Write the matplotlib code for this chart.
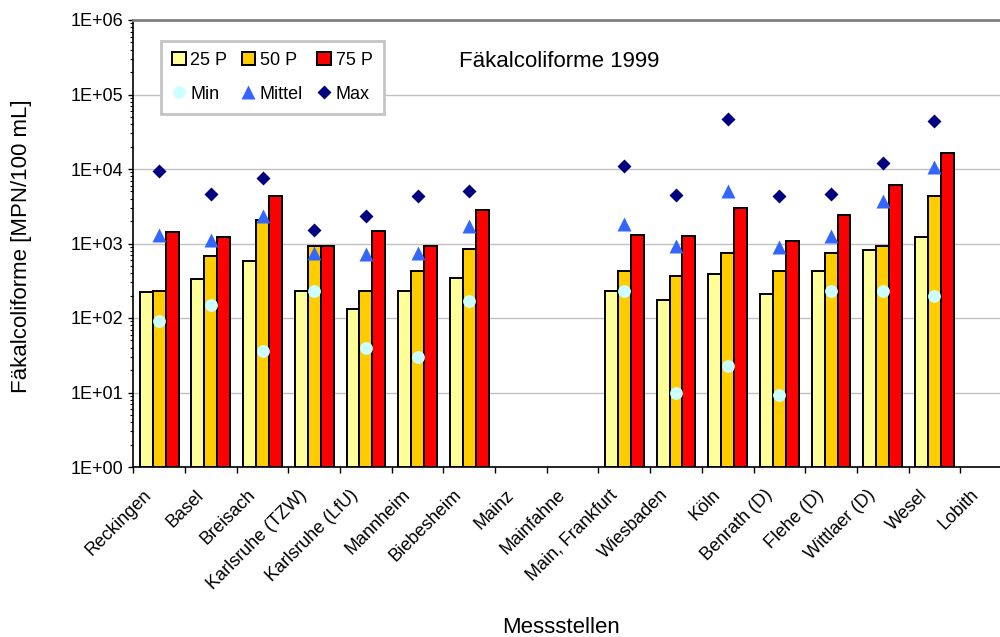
import numpy as np
import matplotlib
matplotlib.use("Agg")
import matplotlib.pyplot as plt
import matplotlib.transforms as mtransforms
from matplotlib.lines import Line2D
from matplotlib.patches import Patch

nan = np.nan
stations = ["Reckingen", "Basel", "Breisach", "Karlsruhe (TZW)", "Karlsruhe (LfU)",
            "Mannheim", "Biebesheim", "Mainz", "Mainfahne", "Main, Frankfurt",
            "Wiesbaden", "Köln", "Benrath (D)", "Flehe (D)", "Wittlaer (D)",
            "Wesel", "Lobith"]
p25 = [222, 333, 587, 229, 133, 229, 347, nan, nan, 232, 174, 384, 209, 430, 810, 1240, nan]
p50 = [232, 685, 2090, 915, 229, 426, 843, nan, nan, 430, 369, 745, 430, 745, 922, 4360, nan]
p75 = [1430, 1208, 4360, 915, 1487, 915, 2825, nan, nan, 1300, 1250, 3000, 1080, 2390, 6180, 16600, nan]
vmin = [91, 150, 36, 232, 40, 30, 171, nan, nan, 232, 9.8, 22.6, 9.2, 232, 232, 198, nan]
mittel = [1313, 1100, 2370, 742, 729, 752, 1740, nan, nan, 1830, 922, 5010, 887, 1250, 3690, 10700, nan]
vmax = [9340, 4680, 7600, 1500, 2345, 4360, 5090, nan, nan, 11000, 4540, 47200, 4360, 4630, 11960, 43600, nan]
yticks = [1e0, 1e1, 1e2, 1e3, 1e4, 1e5, 1e6]
ytick_labels = ["1E+00", "1E+01", "1E+02", "1E+03", "1E+04", "1E+05", "1E+06"]

plt.rcParams['font.family'] = ['Liberation Sans', 'DejaVu Sans']

W, H = 1000, 637
fig = plt.figure(figsize=(W / 100, H / 100), dpi=100)
left_px, right_px, top_px, bot_px = 133.3, 1012, 20, 467
ax = fig.add_axes([left_px / W, 1 - bot_px / H, (right_px - left_px) / W, (bot_px - top_px) / H])

x = np.arange(len(stations))
bw = 0.25
base = 1.0
c25, c50, c75 = "#FFFF99", "#FFCC00", "#FF0000"
ekw = dict(edgecolor="black", linewidth=1.4, zorder=3)
ax.bar(x - bw, np.array(p25) - base, bw, bottom=base, color=c25, **ekw)
ax.bar(x, np.array(p50) - base, bw, bottom=base, color=c50, **ekw)
ax.bar(x + bw, np.array(p75) - base, bw, bottom=base, color=c75, **ekw)

cmin, cmit, cmax = "#CCFFFF", "#3366FF", "#000080"
ax.plot(x, vmin, ls="none", marker="o", ms=9.2, mfc=cmin, mec="none", zorder=5)
ax.plot(x, mittel, ls="none", marker="^", ms=9.6, mfc=cmit, mec="none", zorder=5)
ax.plot(x, vmax, ls="none", marker="D", ms=6.8, mfc=cmax, mec="none", zorder=5)

ax.set_yscale("log")
ax.set_ylim(yticks[0], yticks[-1])
ax.set_xlim(-0.5, len(stations) - 0.5)
ax.set_yticks(yticks)
ax.set_yticklabels(ytick_labels, fontsize=13)
ax.yaxis.set_minor_locator(matplotlib.ticker.LogLocator(base=10, subs=np.arange(2, 10), numticks=20))
ax.yaxis.set_minor_formatter(matplotlib.ticker.NullFormatter())
ax.tick_params(axis="y", which="major", length=3.6, width=1, direction="out", pad=3.6, colors="black")
ax.tick_params(axis="y", which="minor", length=2.2, width=0.8, direction="out")
ax.grid(axis="y", which="major", color="#C0C0C0", linewidth=1.0, zorder=0)
ax.set_axisbelow(True)

ax.set_xticks(x)
ax.set_xticklabels(stations, rotation=45, ha="right", fontsize=13)
ax.set_xticks(np.arange(len(stations) + 1) - 0.5, minor=True)
ax.tick_params(axis="x", which="major", length=0, pad=14)
ax.tick_params(axis="x", which="minor", length=4, width=1, direction="out")
off = mtransforms.ScaledTranslation(-4 / 100, 0, fig.dpi_scale_trans)
for lbl in ax.get_xticklabels():
    lbl.set_transform(lbl.get_transform() + off)

for s in ["left", "bottom"]:
    ax.spines[s].set_color("black")
    ax.spines[s].set_linewidth(1.2)
ax.spines["top"].set_color("#808080")
ax.spines["top"].set_linewidth(2)
ax.spines["right"].set_color("#808080")

fig.text(559.5 / W, 1 - 67.3 / H, "Fäkalcoliforme 1999", ha="center", va="baseline", fontsize=16)
fig.text(22 / W, 1 - 246 / H, "Fäkalcoliforme [MPN/100 mL]", rotation=90, ha="center", va="center", fontsize=16)
fig.text(561 / W, 1 - 633 / H, "Messstellen", ha="center", va="baseline", fontsize=16)

handles = [
    Patch(facecolor=c25, edgecolor="black", linewidth=1.4, label="25 P"),
    Line2D([], [], ls="none", marker="o", ms=9.2, mfc=cmin, mec="none", label="Min"),
    Patch(facecolor=c50, edgecolor="black", linewidth=1.4, label="50 P"),
    Line2D([], [], ls="none", marker="^", ms=9.6, mfc=cmit, mec="none", label="Mittel"),
    Patch(facecolor=c75, edgecolor="black", linewidth=1.4, label="75 P"),
    Line2D([], [], ls="none", marker="D", ms=6.8, mfc=cmax, mec="none", label="Max"),
]
leg = fig.legend(handles=handles, ncol=3, loc="upper left",
                 bbox_to_anchor=(161 / W, 1 - 40.7 / H), fontsize=13,
                 frameon=True, fancybox=False, edgecolor="#C4C4C4", framealpha=1,
                 handlelength=0.75, handleheight=0.75, handletextpad=0.25,
                 columnspacing=0.8, labelspacing=0.92, borderpad=0.62, borderaxespad=0)
leg.get_frame().set_linewidth(2)

fig.savefig("out.png", dpi=100)
